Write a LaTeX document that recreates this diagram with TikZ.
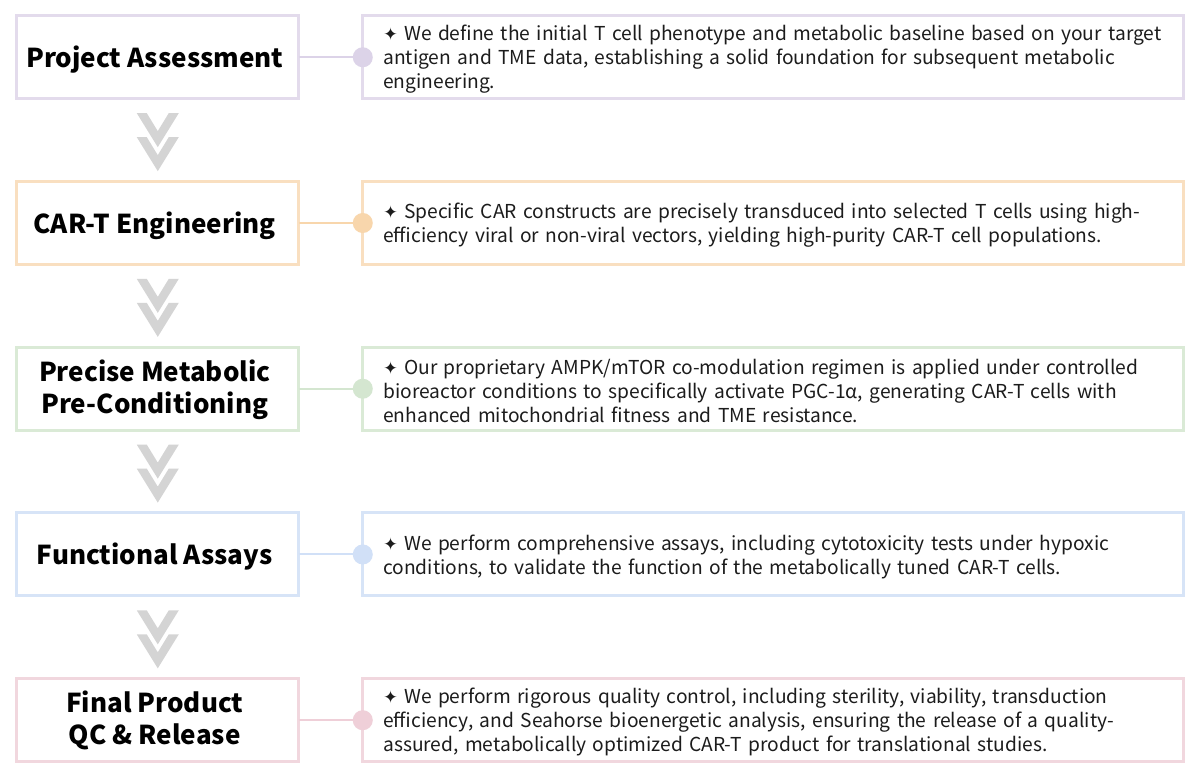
\documentclass[tikz,border=0pt]{standalone}
\usepackage{fontspec}
\setmainfont{Noto Sans CJK SC}
\newfontfamily\symfont{DejaVu Sans}
\usepackage{tikz}
\usetikzlibrary{matrix,arrows.meta,calc}
\hyphenpenalty=10000\relax
\definecolor{lavB}{HTML}{E3DBEC}
\definecolor{lavD}{HTML}{DCD3E8}
\definecolor{peaB}{HTML}{F9DFC0}
\definecolor{peaD}{HTML}{F8D6AC}
\definecolor{grnB}{HTML}{DAEAD6}
\definecolor{grnD}{HTML}{D4E6D0}
\definecolor{bluB}{HTML}{D7E4F7}
\definecolor{bluD}{HTML}{D1E0F7}
\definecolor{pnkB}{HTML}{F1D7DE}
\definecolor{pnkD}{HTML}{EFCFD8}
\definecolor{chevgray}{HTML}{D4D4D4}
\definecolor{ink}{HTML}{1C1C1C}
\newcommand{\spark}{{\symfont\fontsize{13}{13}\selectfont ✦}}
\tikzset{
	stepbox/.style={draw, line width=2.25pt, minimum width=211.5pt, minimum height=62.25pt,
		inner sep=0pt, outer sep=0pt, align=center, text=black, text height=19pt, text depth=4pt,
		font=\fontsize{19.5}{24}\selectfont\bfseries},
	twoline/.style={text height=32.5pt, text depth=19pt},
	notebox/.style={draw, line width=2.25pt, text width=585pt, inner xsep=15.375pt, inner ysep=0pt,
		minimum height=62.25pt, outer sep=0pt, align=left, text=ink, text height=15pt,
		font=\fontsize{14.4}{18}\selectfont},
	conn/.style={line width=1.5pt, -{Circle[length=15pt]}, shorten >=-7.5pt},
	chevs/.pic={
		\fill[chevgray] (-21,-27) -- (-11,-27) -- (0,-9) -- (11,-27) -- (21,-27) -- (0,7) -- cycle;
		\fill[chevgray] (-21,-3) -- (-11,-3) -- (0,15) -- (11,-3) -- (21,-3) -- (0,31) -- cycle;
	}
}
\begin{document}
\begin{tikzpicture}[x=0.75pt,y=-0.75pt]
	\path[use as bounding box, fill=white] (0,0) rectangle (1194,773);
	\matrix (m) [matrix of nodes, anchor=north west, inner sep=0pt, column sep=45.75pt, row sep=59.8pt,
		nodes={anchor=center},
		column 1/.style={nodes={stepbox}}, column 2/.style={nodes={notebox}},
		row 1/.style={nodes={draw=lavB}}, row 2/.style={nodes={draw=peaB}},
		row 3/.style={nodes={draw=grnB}}, row 4/.style={nodes={draw=bluB}},
		row 5/.style={nodes={draw=pnkB}},
		row 3 column 1/.style={nodes={twoline}}, row 5 column 1/.style={nodes={twoline}}] at (15,14)
	{
		Project Assessment & \spark{} We define the initial T cell phenotype and metabolic baseline based on your target\newline antigen and TME data, establishing a solid foundation for subsequent metabolic\newline engineering.\\
		CAR-T Engineering & \spark{} Specific CAR constructs are precisely transduced into selected T cells using high-\newline efficiency viral or non-viral vectors, yielding high-purity CAR-T cell populations.\\
		\begin{tabular}{@{}c@{}}Precise Metabolic\\Pre-Conditioning\end{tabular} & \spark{} Our proprietary AMPK/mTOR co-modulation regimen is applied under controlled\newline bioreactor conditions to specifically activate PGC-1α, generating CAR-T cells with\newline enhanced mitochondrial fitness and TME resistance.\\
		Functional Assays & \spark{} We perform comprehensive assays, including cytotoxicity tests under hypoxic\newline conditions, to validate the function of the metabolically tuned CAR-T cells.\\
		\begin{tabular}{@{}c@{}}Final Product\\QC \& Release\end{tabular} & \spark{} We perform rigorous quality control, including sterility, viability, transduction\newline efficiency, and Seahorse bioenergetic analysis, ensuring the release of a quality-\newline assured, metabolically optimized CAR-T product for translational studies.\\
	};
	\path[conn]
	(m-1-1) edge[lavD] (m-1-2)
	(m-2-1) edge[peaD] (m-2-2)
	(m-3-1) edge[grnD] (m-3-2)
	(m-4-1) edge[bluD] (m-4-2)
	(m-5-1) edge[pnkD] (m-5-2);
	\pic at ($(m-1-1.south)!.5!(m-2-1.north)$) {chevs};
	\pic at ($(m-2-1.south)!.5!(m-3-1.north)$) {chevs};
	\pic at ($(m-3-1.south)!.5!(m-4-1.north)$) {chevs};
	\pic at ($(m-4-1.south)!.5!(m-5-1.north)$) {chevs};
\end{tikzpicture}
\end{document}
